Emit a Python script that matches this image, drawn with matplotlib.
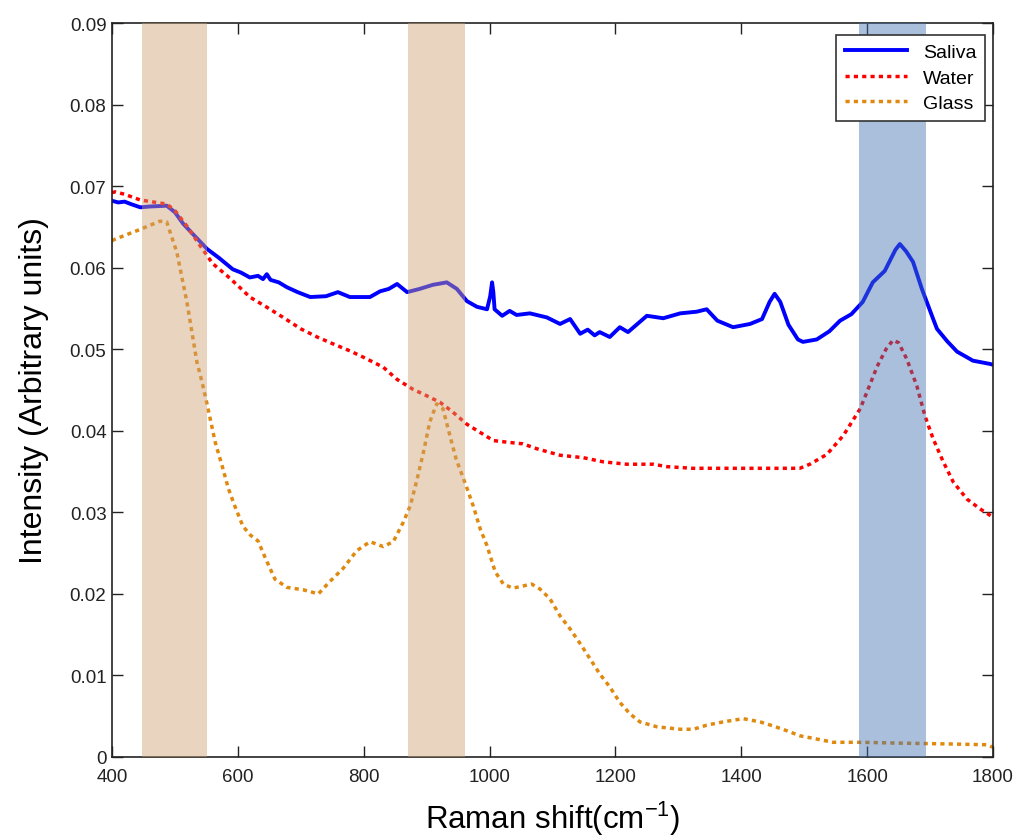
import numpy as np
import matplotlib.pyplot as plt

plt.rcParams['font.family'] = ['Liberation Sans', 'DejaVu Sans']
plt.rcParams['mathtext.default'] = 'regular'

# Saliva spectrum
saliva_x = [400, 410, 420, 430, 445, 460, 487, 500, 513, 530, 551, 570, 592, 605, 619, 632,
            640, 646, 652, 665, 678, 695, 715, 740, 759, 778, 810, 826, 840, 853, 869, 889,
            910, 932, 948, 964, 980, 996, 1001, 1004, 1006, 1008, 1020, 1032, 1043, 1064,
            1091, 1112, 1128, 1144, 1156, 1167, 1175, 1191, 1207, 1220, 1250, 1276, 1303,
            1329, 1345, 1362, 1387, 1414, 1433, 1445, 1453, 1462, 1475, 1490, 1498, 1520,
            1540, 1557, 1575, 1593, 1609, 1628, 1645, 1652, 1662, 1673, 1687, 1705, 1711,
            1727, 1743, 1759, 1768, 1795, 1800]
saliva_y = [0.0682, 0.0680, 0.0681, 0.0678, 0.0674, 0.0675, 0.0676, 0.0668, 0.0654, 0.0640,
            0.0623, 0.0612, 0.0598, 0.0594, 0.0588, 0.0590, 0.0586, 0.0592, 0.0585, 0.0582,
            0.0576, 0.0570, 0.0564, 0.0565, 0.0570, 0.0564, 0.0564, 0.0571, 0.0574, 0.0580,
            0.0570, 0.0574, 0.0579, 0.0582, 0.0574, 0.0559, 0.0552, 0.0549, 0.0565, 0.0582,
            0.0570, 0.0549, 0.0541, 0.0547, 0.0542, 0.0544, 0.0539, 0.0531, 0.0537, 0.0519,
            0.0524, 0.0517, 0.0521, 0.0515, 0.0527, 0.0521, 0.0541, 0.0538, 0.0544, 0.0546,
            0.0549, 0.0535, 0.0527, 0.0531, 0.0537, 0.0558, 0.0568, 0.0558, 0.0530, 0.0512,
            0.0509, 0.0512, 0.0522, 0.0535, 0.0543, 0.0558, 0.0582, 0.0596, 0.0622, 0.0629,
            0.0620, 0.0607, 0.0574, 0.0537, 0.0525, 0.0510, 0.0497, 0.0490, 0.0486, 0.0482,
            0.0481]

# Water spectrum
water_x = [400, 405, 420, 445, 487, 500, 520, 540, 560, 583, 600, 619, 645, 672, 700, 726,
           750, 778, 800, 831, 853, 878, 900, 921, 940, 964, 985, 1006, 1028, 1053, 1075,
           1112, 1149, 1180, 1218, 1260, 1282, 1323, 1377, 1430, 1493, 1509, 1536, 1562,
           1589, 1600, 1616, 1630, 1641, 1650, 1663, 1679, 1692, 1705, 1721, 1737, 1759,
           1780, 1800]
water_y = [0.0692, 0.0693, 0.0690, 0.0683, 0.0678, 0.0670, 0.0650, 0.0627, 0.0605, 0.0590,
           0.0578, 0.0564, 0.0552, 0.0539, 0.0525, 0.0515, 0.0507, 0.0498, 0.0490, 0.0478,
           0.0463, 0.0451, 0.0443, 0.0435, 0.0424, 0.0408, 0.0398, 0.0388, 0.0386, 0.0384,
           0.0378, 0.0370, 0.0367, 0.0362, 0.0359, 0.0359, 0.0356, 0.0354, 0.0354, 0.0354,
           0.0354, 0.0359, 0.0371, 0.0394, 0.0427, 0.0448, 0.0479, 0.0500, 0.0511, 0.0508,
           0.0488, 0.0455, 0.0418, 0.0390, 0.0362, 0.0337, 0.0316, 0.0304, 0.0294]

# Glass spectrum
glass_x = [400, 405, 445, 476, 487, 503, 519, 535, 543, 551, 564, 575, 585, 595, 608, 620,
           632, 646, 659, 678, 704, 728, 746, 767, 789, 810, 831, 847, 863, 874, 885, 895,
           905, 916, 926, 937, 947, 963, 974, 985, 996, 1009, 1022, 1037, 1067, 1080, 1096,
           1112, 1128, 1144, 1160, 1175, 1191, 1207, 1223, 1239, 1266, 1303, 1324, 1345,
           1371, 1403, 1430, 1451, 1473, 1493, 1520, 1546, 1593, 1650, 1730, 1790, 1800]
glass_y = [0.0633, 0.0635, 0.0647, 0.0657, 0.0656, 0.0619, 0.0558, 0.0484, 0.0460, 0.0433,
           0.0386, 0.0357, 0.0329, 0.0308, 0.0283, 0.0272, 0.0265, 0.0240, 0.0218, 0.0208,
           0.0205, 0.0200, 0.0215, 0.0231, 0.0253, 0.0264, 0.0258, 0.0264, 0.0288, 0.0308,
           0.0341, 0.0374, 0.0411, 0.0433, 0.0427, 0.0394, 0.0365, 0.0332, 0.0308, 0.0280,
           0.0259, 0.0227, 0.0212, 0.0207, 0.0212, 0.0206, 0.0194, 0.0173, 0.0157, 0.0139,
           0.0120, 0.0102, 0.0086, 0.0067, 0.0053, 0.0043, 0.0037, 0.0034, 0.0034, 0.0039,
           0.0043, 0.0047, 0.0043, 0.0038, 0.0032, 0.0026, 0.0022, 0.0018, 0.0018, 0.0017,
           0.0016, 0.0015, 0.0012]

# highlighted bands (cm^-1)
bands = [(447, 551), (870, 961), (1587, 1693)]
band_colors = ['#CCA073', '#CCA073', '#4071B0']

fig = plt.figure(figsize=(10.2, 8.37), dpi=100)
ax = fig.add_axes([0.1098, 0.0944, 0.8637, 0.8769])

ax.plot(saliva_x, saliva_y, color='#0000FF', lw=2.8, label='Saliva')
ax.plot(water_x, water_y, color='#FF0000', lw=2.5, linestyle=(0, (1.2, 1.2)), label='Water')
ax.plot(glass_x, glass_y, color='#E0890F', lw=2.5, linestyle=(0, (1.2, 1.2)), label='Glass')

for (lo, hi), c in zip(bands, band_colors):
    ax.axvspan(lo, hi, color=c, alpha=0.45, lw=0, zorder=3)

ax.set_xlim(400, 1800)
ax.set_ylim(0, 0.09)
ax.set_xticks(np.arange(400, 1801, 200))
ax.set_yticks(np.arange(0, 0.091, 0.01))
ax.set_yticklabels(['0'] + ['%.2f' % v for v in np.arange(0.01, 0.091, 0.01)])
ax.tick_params(direction='in', length=8, width=1, top=True, right=True, labelsize=13.5,
               colors='#222222')
ax.tick_params(axis='x', pad=8)
ax.tick_params(axis='y', pad=4)
for s in ax.spines.values():
    s.set_linewidth(1.2)
    s.set_color('#222222')

ax.set_xlabel('Raman shift(cm$^{-1}$)', fontsize=22.5, labelpad=10)
ax.set_ylabel('Intensity (Arbitrary units)', fontsize=23, labelpad=15)

leg = ax.legend(loc='upper right', bbox_to_anchor=(0.991, 0.984), borderaxespad=0,
                fontsize=14, fancybox=False, framealpha=1, edgecolor='#333333',
                handlelength=3.2, labelspacing=0.4, borderpad=0.45)
leg.get_frame().set_linewidth(1.2)
leg.set_zorder(5)

plt.savefig('out.png', dpi=100)
